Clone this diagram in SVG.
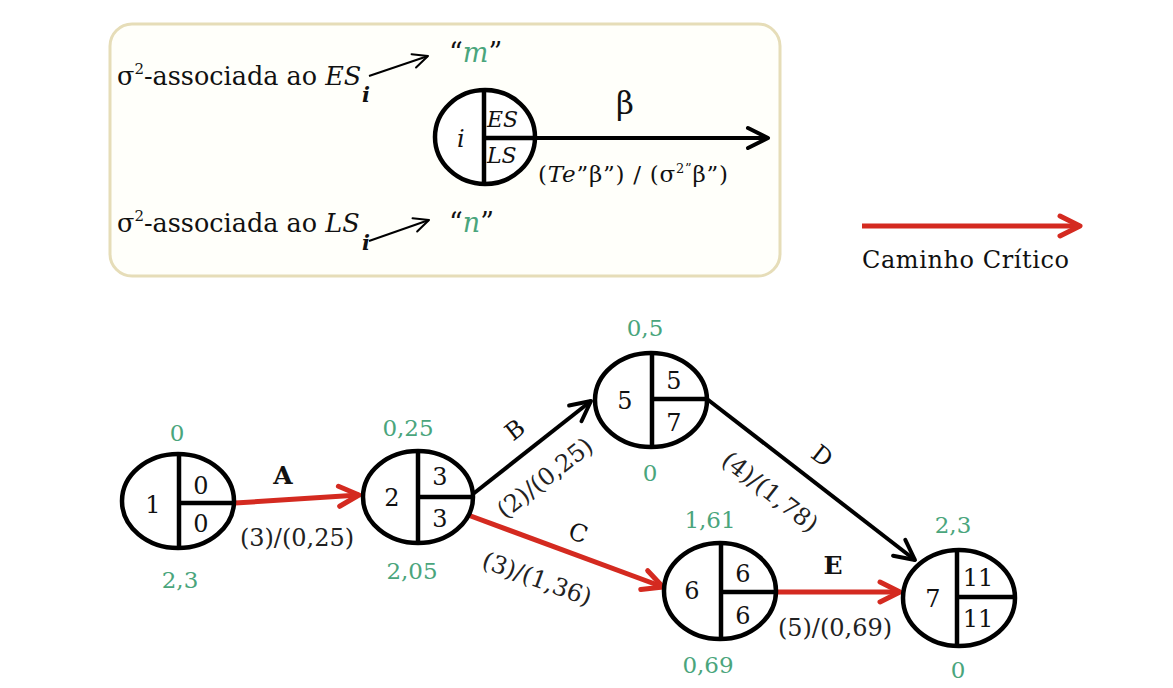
<svg xmlns="http://www.w3.org/2000/svg" width="1173" height="688" viewBox="0 0 1173 688">
<style>
.t{font-family:"DejaVu Serif","Liberation Serif",serif;fill:#111;}
.n{font-size:24px;text-anchor:middle;}
.g{font-family:"DejaVu Serif","Liberation Serif",serif;font-size:23px;fill:#4aa57c;text-anchor:middle;}
.el{font-size:24px;text-anchor:middle;fill:#222;}
.lab{font-size:25px;font-weight:bold;text-anchor:middle;}
.labn{font-size:24px;text-anchor:middle;}
.node{fill:#fff;stroke:#000;stroke-width:4.5;}
.div{stroke:#000;stroke-width:4.5;fill:none;}
.blk{stroke:#000;stroke-width:4;fill:none;}
.red{stroke:#d42a20;stroke-width:5;fill:none;}
.thin{stroke:#000;stroke-width:2;fill:none;}
</style>
<defs>
<marker id="ahB" markerUnits="userSpaceOnUse" markerWidth="28" markerHeight="26" viewBox="0 0 28 26" refX="24" refY="13" orient="auto">
<path d="M4,3 L24,13 L4,23" fill="none" stroke="#000" stroke-width="4" stroke-linecap="round" stroke-linejoin="round"/>
</marker>
<marker id="ahR" markerUnits="userSpaceOnUse" markerWidth="28" markerHeight="26" viewBox="0 0 28 26" refX="24" refY="13" orient="auto">
<path d="M4,3 L24,13 L4,23" fill="none" stroke="#d42a20" stroke-width="5" stroke-linecap="round" stroke-linejoin="round"/>
</marker>
<marker id="ahS" markerUnits="userSpaceOnUse" markerWidth="20" markerHeight="18" viewBox="0 0 20 18" refX="17" refY="9" orient="auto">
<path d="M2,2 L17,9 L2,16" fill="none" stroke="#000" stroke-width="2" stroke-linecap="round" stroke-linejoin="round"/>
</marker>
</defs>
<rect x="0" y="0" width="1173" height="688" fill="#fff"/>

<g id="legend">
<rect x="110" y="24" width="670" height="252" rx="22" ry="22" fill="#fffffa" stroke="#e6ddb8" stroke-width="3"/>
<text class="t" x="117" y="85" font-size="25.5">σ<tspan dy="-11" font-size="15">2</tspan><tspan dy="11">-associada ao </tspan><tspan font-style="italic">ES</tspan></text>
<text class="t" x="362" y="102" font-size="21" font-style="italic" font-weight="bold">i</text>
<line class="thin" x1="369" y1="76" x2="428" y2="56" marker-end="url(#ahS)"/>
<text class="t" x="449" y="62" font-size="27">“<tspan font-style="italic" fill="#4aa57c">m</tspan>”</text>

<text class="t" x="117" y="232" font-size="25.5">σ<tspan dy="-11" font-size="15">2</tspan><tspan dy="11">-associada ao </tspan><tspan font-style="italic">LS</tspan></text>
<text class="t" x="362" y="250" font-size="21" font-style="italic" font-weight="bold">i</text>
<line class="thin" x1="369" y1="241" x2="429" y2="220" marker-end="url(#ahS)"/>
<text class="t" x="449" y="232" font-size="27">“<tspan font-style="italic" fill="#4aa57c">n</tspan>”</text>

<line class="blk" x1="535" y1="138" x2="768" y2="138" marker-end="url(#ahB)"/>
<g id="legend-node">
<ellipse class="node" cx="485" cy="137" rx="50" ry="47"/>
<line class="div" x1="484" y1="90" x2="484" y2="184"/>
<line class="div" x1="484" y1="138" x2="535" y2="138"/>
<text class="t" x="457" y="147" font-size="24" font-style="italic">i</text>
<text class="t" x="487" y="127" font-size="22" font-style="italic">ES</text>
<text class="t" x="487" y="163" font-size="22" font-style="italic">LS</text>
</g>
<text class="t" x="625" y="114" font-size="31" text-anchor="middle">β</text>
<text class="t" x="538" y="182" font-size="23" textLength="190">(<tspan font-style="italic">Te</tspan>”β”) / (σ<tspan dy="-9" font-size="13">2”</tspan><tspan dy="9">β”)</tspan></text>
</g>

<g id="critical-legend">
<line class="red" x1="862" y1="226" x2="1080" y2="226" marker-end="url(#ahR)"/>
<text class="t" x="862" y="268" font-size="24" textLength="207" fill="#222">Caminho Crítico</text>
</g>

<g id="connectors">
<g id="edge-A">
<line class="red" x1="235" y1="503" x2="359" y2="495" marker-end="url(#ahR)"/>
<text class="t lab" x="283" y="484">A</text>
<text class="t el" x="297" y="546">(3)/(0,25)</text>
</g>
<g id="edge-B">
<line class="blk" x1="473" y1="494" x2="591" y2="401" marker-end="url(#ahB)"/>
<text class="t labn" transform="translate(515,430) rotate(-38)" y="8">B</text>
<text class="t el" transform="translate(545,478) rotate(-38)" y="8">(2)/(0,25)</text>
</g>
<g id="edge-C">
<line class="red" x1="468" y1="515" x2="663" y2="587" marker-end="url(#ahR)"/>
<text class="t labn" transform="translate(578,533) rotate(20)" y="8">C</text>
<text class="t el" transform="translate(537,579) rotate(20)" y="8">(3)/(1,36)</text>
</g>
<g id="edge-D">
<line class="blk" x1="707" y1="399" x2="915" y2="560" marker-end="url(#ahB)"/>
<text class="t labn" transform="translate(822,456) rotate(38)" y="8">D</text>
<text class="t el" transform="translate(770,492) rotate(38)" y="8">(4)/(1,78)</text>
</g>
<g id="edge-E">
<line class="red" x1="776" y1="592" x2="900" y2="592" marker-end="url(#ahR)"/>
<text class="t lab" x="833" y="574">E</text>
<text class="t el" x="835" y="636">(5)/(0,69)</text>
</g>
</g>

<g id="node-1">
<ellipse class="node" cx="178" cy="501" rx="56" ry="47"/>
<line class="div" x1="179" y1="454" x2="179" y2="549"/>
<line class="div" x1="179" y1="503" x2="234" y2="503"/>
<text class="t n" x="153" y="513">1</text>
<text class="t n" x="201" y="494">0</text>
<text class="t n" x="201" y="532">0</text>
<text class="g" x="177" y="441">0</text>
<text class="g" x="180" y="588">2,3</text>
</g>

<g id="node-2">
<ellipse class="node" cx="418" cy="497" rx="55" ry="46"/>
<line class="div" x1="418" y1="451" x2="418" y2="543"/>
<line class="div" x1="418" y1="497" x2="473" y2="497"/>
<text class="t n" x="392" y="506">2</text>
<text class="t n" x="440" y="485">3</text>
<text class="t n" x="440" y="527">3</text>
<text class="g" x="408" y="436">0,25</text>
<text class="g" x="412" y="579">2,05</text>
</g>

<g id="node-5">
<ellipse class="node" cx="651" cy="400" rx="56" ry="47"/>
<line class="div" x1="652" y1="353" x2="652" y2="447"/>
<line class="div" x1="652" y1="399" x2="707" y2="399"/>
<text class="t n" x="625" y="409">5</text>
<text class="t n" x="674" y="389">5</text>
<text class="t n" x="674" y="431">7</text>
<text class="g" x="645" y="336">0,5</text>
<text class="g" x="650" y="481">0</text>
</g>

<g id="node-6">
<ellipse class="node" cx="720" cy="591" rx="56" ry="48"/>
<line class="div" x1="721" y1="543" x2="721" y2="639"/>
<line class="div" x1="721" y1="592" x2="776" y2="592"/>
<text class="t n" x="692" y="599">6</text>
<text class="t n" x="743" y="582">6</text>
<text class="t n" x="743" y="624">6</text>
<text class="g" x="710" y="528">1,61</text>
<text class="g" x="708" y="673">0,69</text>
</g>

<g id="node-7">
<ellipse class="node" cx="959" cy="598" rx="56" ry="48"/>
<line class="div" x1="957" y1="550" x2="957" y2="647"/>
<line class="div" x1="957" y1="597" x2="1015" y2="597"/>
<text class="t n" x="933" y="607">7</text>
<text class="t n" x="978" y="586">11</text>
<text class="t n" x="978" y="627">11</text>
<text class="g" x="953" y="533">2,3</text>
<text class="g" x="958" y="678">0</text>
</g>
</svg>
